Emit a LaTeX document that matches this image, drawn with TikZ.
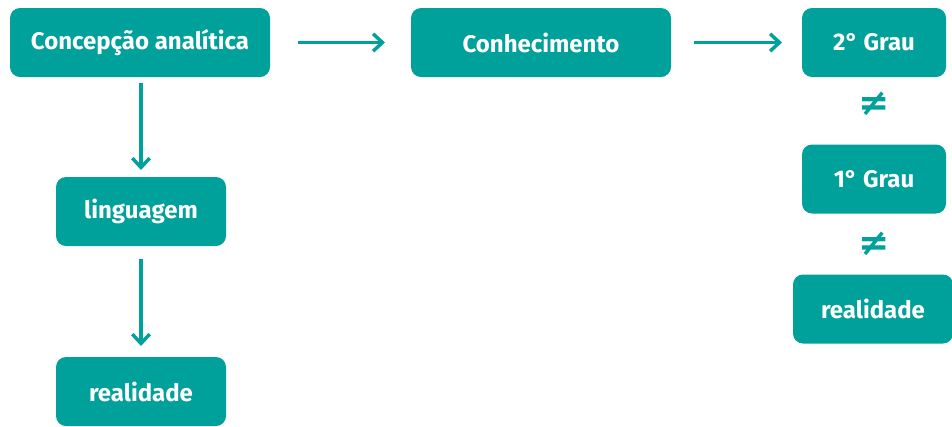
\documentclass[tikz,border=0pt]{standalone}
\usepackage{fontspec}
\setmainfont{Fira Sans}
\newfontfamily\symfont{DejaVu Sans}
\usetikzlibrary{arrows.meta}
\definecolor{teal1}{RGB}{0,161,154}
\tikzset{
  x=0.75pt, y=-0.75pt,
  box/.style={fill=teal1, rounded corners=7.5pt, text=white, inner sep=0pt,
    font=\fontsize{18}{20}\selectfont\bfseries, minimum height=51.75pt},
  conn/.style={draw=teal1, line width=2.6pt, -{Straight Barb[length=7pt,width=13pt,line width=2.6pt]}},
  neq/.style={text=teal1, font=\symfont\fontsize{28}{29}\selectfont\bfseries, inner sep=0pt}
}
\begin{document}
\begin{tikzpicture}
\useasboundingbox (0,0) rectangle (952,426);
\node[box, minimum width=195pt] (ca) at (140,42.5) {Concepção analítica};
\node[box, minimum width=195pt] (co) at (541,42.5) {Conhecimento};
\node[box, minimum width=108pt] (g2) at (874,42.5) {2° Grau};
\node[box, minimum width=108pt] (g1) at (874,179) {1° Grau};
\node[box, minimum width=120pt] (rr) at (873,309) {realidade};
\node[box, minimum width=127.5pt] (li) at (141,211.5) {linguagem};
\node[box, minimum width=127.5pt] (rl) at (141,391.5) {realidade};
\node[neq] (n1) at (874,104) {≠};
\node[neq] (n2) at (874,244) {≠};
\coordinate (a1s) at (298,42.5); \coordinate (a1e) at (385,42.5);
\coordinate (a2s) at (694,42.5); \coordinate (a2e) at (782,42.5);
\coordinate (a3s) at (141,83); \coordinate (a3e) at (141,170);
\coordinate (a4s) at (141,259); \coordinate (a4e) at (141,346);
\draw[conn] (a1s) -- (a1e);
\draw[conn] (a2s) -- (a2e);
\draw[conn] (a3s) -- (a3e);
\draw[conn] (a4s) -- (a4e);
\end{tikzpicture}
\end{document}
